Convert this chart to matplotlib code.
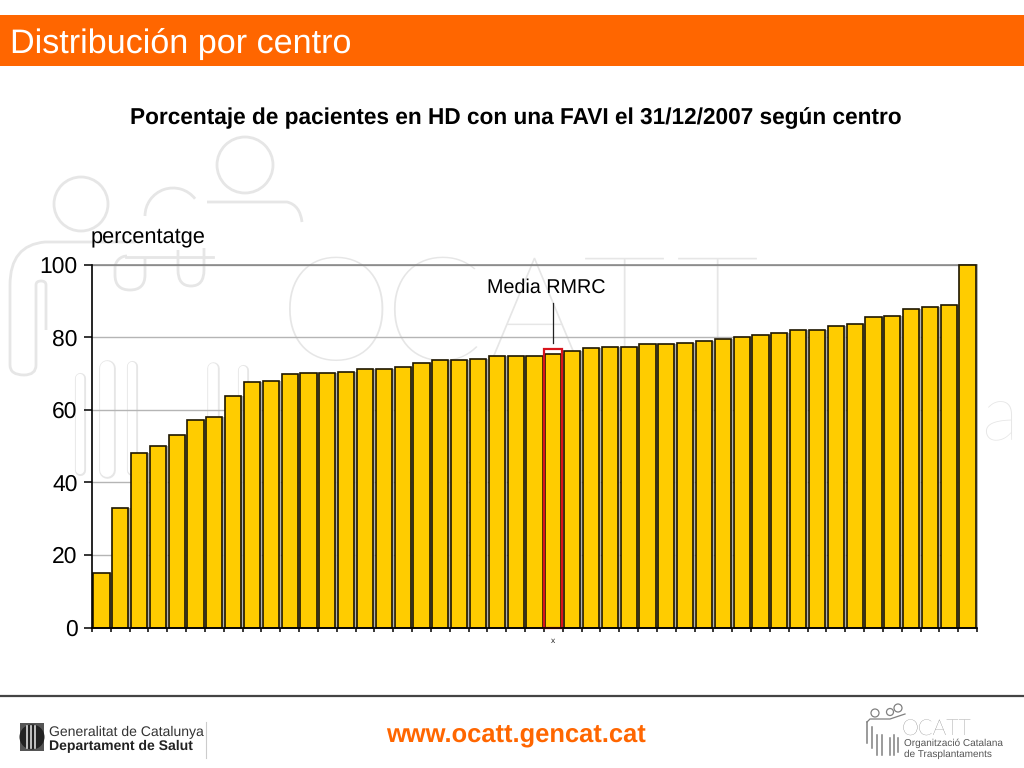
import matplotlib
matplotlib.use('Agg')
import matplotlib.pyplot as plt
import matplotlib.patheffects as pe
from matplotlib.patches import Circle, Rectangle, PathPatch, Arc
from matplotlib.path import Path

plt.rcParams['font.family'] = ['Liberation Sans', 'DejaVu Sans']
plt.rcParams['text.hinting'] = 'no_hinting'

# Values, one per centre
centres = list(range(1, 48))
percentages = [
    14.9, 33.0, 48.0, 50.0, 53.0, 57.2, 58.0, 63.8, 67.6, 68.0,
    69.8, 70.1, 70.1, 70.5, 71.3, 71.3, 71.7, 72.8, 73.6, 73.6,
    74.0, 74.7, 74.8, 74.8, 75.3, 76.3, 76.9, 77.3, 77.3, 78.1,
    78.1, 78.4, 78.9, 79.6, 80.0, 80.5, 81.2, 81.9, 81.9, 83.1,
    83.6, 85.4, 85.7, 87.7, 88.4, 88.8, 100.0,
]
y_ticks = [0, 20, 40, 60, 80, 100]
media_centre = 25
media_box_top = 76.6

ORANGE = '#FF6600'
WM = '#E6E6E6'

fig = plt.figure(figsize=(10.24, 7.68), dpi=100, facecolor='white')

# Page layer in pixel coordinates (header, watermark, footer)
bg = fig.add_axes([0, 0, 1, 1], zorder=0)
bg.set_xlim(0, 1024)
bg.set_ylim(768, 0)
bg.axis('off')


def capsule(pts, color=WM, wide=8.5):
    # outlined stroke: wide grey line with a white one on top
    xs, ys = zip(*pts)
    bg.plot(xs, ys, color=color, lw=wide, solid_capstyle='round', solid_joinstyle='round')
    bg.plot(xs, ys, color='white', lw=wide - 2, solid_capstyle='round', solid_joinstyle='round')


# watermark people
for cx, cy, r in [(81, 204, 27), (245, 165, 28)]:
    bg.add_patch(Circle((cx, cy), r, fill=False, ec=WM, lw=2))
bg.add_patch(Arc((173, 216), 56, 56, theta1=180, theta2=322, ec=WM, lw=2))
body = Path([(207, 202), (287, 202), (300, 205), (302, 222)],
            [Path.MOVETO, Path.LINETO, Path.CURVE3, Path.CURVE3])
bg.add_patch(PathPatch(body, fill=False, ec=WM, lw=2))
shoulder = Path([(135, 242), (45, 242), (10, 245), (10, 285), (10, 365),
                 (10, 375), (24, 375), (36, 375), (36, 365), (36, 285),
                 (36, 281), (41, 281), (46, 281), (46, 285), (46, 330)],
                [Path.MOVETO, Path.LINETO, Path.CURVE3, Path.CURVE3, Path.LINETO,
                 Path.CURVE3, Path.CURVE3, Path.CURVE3, Path.CURVE3, Path.LINETO,
                 Path.CURVE3, Path.CURVE3, Path.CURVE3, Path.CURVE3, Path.LINETO])
bg.add_patch(PathPatch(shoulder, fill=False, ec=WM, lw=2))
u_codes = [Path.MOVETO, Path.LINETO, Path.CURVE3, Path.CURVE3,
           Path.CURVE3, Path.CURVE3, Path.LINETO]
for verts in [[(145, 257), (145, 275), (145, 290), (130, 290), (115, 290), (115, 275), (115, 268)],
              [(178, 250), (178, 270), (178, 286), (191, 286), (204, 286), (204, 270), (204, 248)]]:
    bg.add_patch(PathPatch(Path(verts, u_codes), fill=False, ec=WM, lw=2))
bg.plot([126, 213], [257, 257], color=WM, lw=2)
bg.add_patch(Arc((127, 268), 24, 24, theta1=180, theta2=270, ec=WM, lw=2))
for x0, y0, w in [(80, 378, 8), (107, 368, 12), (132, 366, 8), (213, 368, 9), (243, 370, 8)]:
    capsule([(x0, y0), (x0, 470)], wide=w)

# watermark letters
for letter, x in zip('OCATT', [279, 383, 488, 583, 676]):
    bg.text(x, 360, letter, fontsize=105, color=WM, family=['Lato', 'Liberation Sans'],
            fontweight='light', ha='left', va='baseline')
bg.text(981, 440, 'a', fontsize=56, color=WM, family=['Lato', 'Liberation Sans'],
        fontweight='light', ha='left', va='baseline')

# header
bg.add_patch(Rectangle((0, 15), 1024, 50.5, fc=ORANGE, ec='none'))
bg.text(10, 52.5, 'Distribución por centro', color='white', fontsize=24.6,
        ha='left', va='baseline')

# chart titles
bg.text(516, 124, 'Porcentaje de pacientes en HD con una FAVI el 31/12/2007 según centro',
        fontsize=16.3, fontweight='bold', ha='center', va='baseline', color='black')
bg.text(91, 242.5, 'percentatge', fontsize=15.7, ha='left', va='baseline', color='black')

# footer
bg.plot([0, 1024], [695.5, 695.5], color='#444444', lw=1.6)
bg.text(386, 742, 'www.ocatt.gencat.cat', color=ORANGE, fontsize=18.4, fontweight='bold',
        ha='left', va='baseline')
bg.add_patch(Rectangle((20, 723), 24, 28, fc='#555555', ec='none'))
bg.add_patch(Circle((32, 737), 12.5, fc='#222222', ec='none'))
for sx in [27, 31, 35]:
    bg.plot([sx, sx], [726, 748], color='#DDDDDD', lw=1.2)
bg.text(49, 736, 'Generalitat de Catalunya', fontsize=10.1, color='#333333', va='baseline')
bg.text(49, 750, 'Departament de Salut', fontsize=10.1, fontweight='bold', color='#222222',
        va='baseline')
bg.plot([206, 206], [722, 758], color='#CCCCCC', lw=0.8)

# OCATT logo
LOGO = '#808080'
for cx, cy, r in [(875, 713, 4), (890, 712, 3.5), (898, 708, 4)]:
    bg.add_patch(Circle((cx, cy), r, fill=False, ec=LOGO, lw=0.9))
for x0, y0, y1 in [(867, 722, 743), (872, 727, 748), (877, 735, 755), (882, 735, 755),
                   (890, 738, 755), (894, 735, 755), (898, 738, 752)]:
    bg.plot([x0, x0], [y0, y1], color=LOGO, lw=1.1)
bg.plot([867, 870, 890, 905], [722, 719, 719, 714], color=LOGO, lw=0.9)
bg.text(902, 734.5, 'OCATT', fontsize=15.5, color='#555555', family=['Lato', 'Liberation Sans'],
        fontweight='light', va='baseline')
bg.text(904, 746, 'Organització Catalana', fontsize=7.2, color='#555555', va='baseline')
bg.text(904, 757, 'de Trasplantaments', fontsize=7.2, color='#555555', va='baseline')

# Chart itself
ax = fig.add_axes([92 / 1024, 1 - 627.5 / 768, 885 / 1024, 363 / 768], zorder=1)
ax.patch.set_alpha(0)
ax.set_xlim(0.5, 47.5)
ax.set_ylim(0, 100)

bars = ax.bar(centres, percentages, width=0.86, color='#FFCC00', edgecolor='#1E1600',
              linewidth=1.2, zorder=3, clip_on=False)
for b in bars:
    b.set_path_effects([pe.SimplePatchShadow(offset=(1.6, 0), shadow_rgbFace='#AAAAAA', alpha=0.9),
                        pe.Normal()])

ax.bar([media_centre], [media_box_top], width=0.96, fill=False, edgecolor='#D8141C',
       linewidth=1.6, zorder=4, clip_on=False)

ax.yaxis.grid(True, color='#B5B5B5', lw=1.0, zorder=1)
ax.set_axisbelow(True)
ax.spines['top'].set_visible(True)
ax.spines['top'].set_color('#808080')
ax.spines['top'].set_linewidth(1.1)
ax.spines['right'].set_visible(False)
ax.spines['left'].set_linewidth(1.2)
ax.spines['bottom'].set_linewidth(1.2)
for s in ['left', 'bottom']:
    ax.spines[s].set_zorder(5)

ax.set_yticks(y_ticks)
ax.tick_params(axis='y', labelsize=16.5, length=5.5, width=1.1, pad=5, colors='black')
ax.set_xticks([c - 0.5 for c in centres] + [centres[-1] + 0.5])
ax.tick_params(axis='x', length=3, width=1.1, labelbottom=False)

ax.text(media_centre - 0.4, 93.5, 'Media RMRC', ha='center', va='center', fontsize=14.2,
        color='black', zorder=6)
ax.plot([media_centre, media_centre], [78.4, 89.5], color='#222222', lw=0.9, zorder=6)
ax.annotate('x', xy=(media_centre, 0), xytext=(0, -11.5), textcoords='offset points',
            ha='center', va='baseline', fontsize=6, color='#222222', annotation_clip=False)

fig.savefig('out.png', dpi=100)
